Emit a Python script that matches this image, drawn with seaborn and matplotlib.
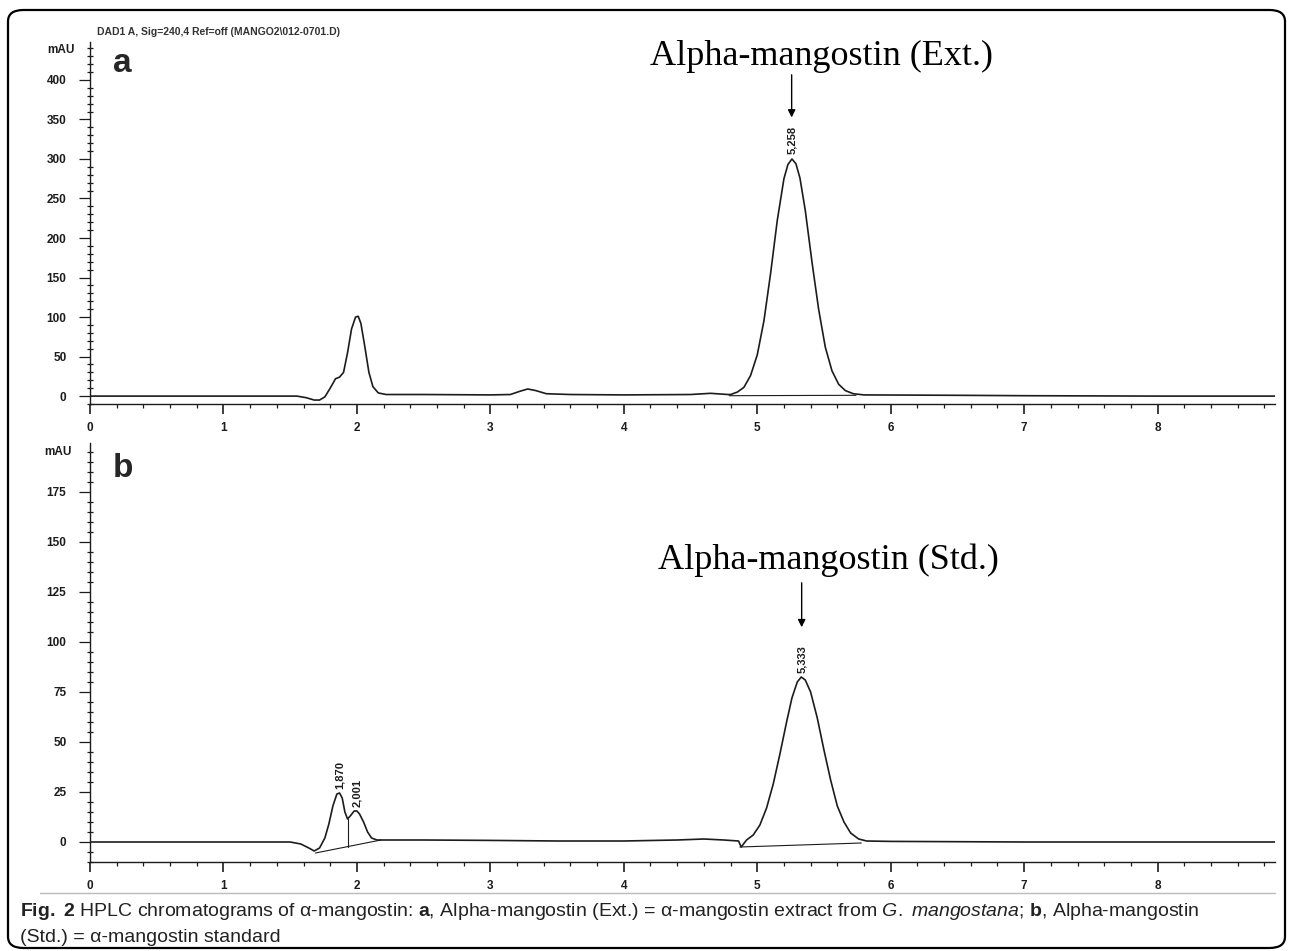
import numpy as np
import pandas as pd
import matplotlib
matplotlib.use("Agg")
import matplotlib.pyplot as plt
import seaborn as sns
from matplotlib.patches import FancyBboxPatch
from matplotlib.ticker import MultipleLocator

# trace a: extract (retention time in min, signal in mAU)
a_time = [0.0, 1.55, 1.62, 1.68, 1.72, 1.76, 1.80, 1.84, 1.87, 1.90, 1.93, 1.96, 1.99,
          2.01, 2.03, 2.06, 2.09, 2.12, 2.16, 2.22, 2.5, 3.0, 3.15, 3.22, 3.28, 3.34,
          3.42, 3.6, 4.0, 4.5, 4.65, 4.78, 4.80, 4.85, 4.90, 4.95, 5.00, 5.05, 5.10,
          5.15, 5.20, 5.23, 5.26, 5.29, 5.32, 5.36, 5.41, 5.46, 5.51, 5.56, 5.61,
          5.66, 5.72, 5.80, 6.5, 7.0, 8.0, 8.88]
a_signal = [0, 0, -2, -5, -5, -1, 10, 22, 24, 30, 55, 85, 100,
            101, 92, 62, 30, 12, 4, 2, 2, 1.5, 2, 6, 9, 7,
            3, 2, 1.5, 2, 3.5, 2, 2, 5, 11, 26, 52, 95, 155,
            222, 275, 293, 300, 294, 276, 235, 170, 110, 62, 32, 15,
            7, 3, 1.5, 1, 0.5, 0, 0]

# trace b: standard
b_time = [0.0, 1.50, 1.58, 1.64, 1.68, 1.72, 1.76, 1.79, 1.82, 1.85, 1.87, 1.89,
          1.91, 1.93, 1.95, 1.98, 2.00, 2.02, 2.05, 2.08, 2.11, 2.15, 2.20, 2.5,
          3.0, 3.5, 4.0, 4.4, 4.6, 4.75, 4.86, 4.88, 4.92, 4.97, 5.02, 5.07, 5.12,
          5.17, 5.22, 5.26, 5.30, 5.33, 5.36, 5.40, 5.45, 5.50, 5.55, 5.60, 5.65,
          5.70, 5.76, 5.82, 6.0, 7.0, 8.0, 8.88]
b_signal = [0, 0, -1, -3, -4.5, -3, 2, 9, 18, 24, 24.5, 22,
            15, 11.5, 13, 15.5, 15.5, 14, 10, 5, 2, 1, 1, 1,
            0.8, 0.5, 0.5, 1, 1.5, 1, 0.5, -2.5, 1, 3.5, 8.5, 17, 29,
            44, 60, 72, 80, 82.5, 81, 75, 62, 46, 31, 18, 10,
            4.5, 1.5, 0.5, 0.3, 0, 0, 0]

# integration baselines drawn by the software
a_base_time = [4.79, 5.74]
a_base_signal = [0.5, 1.0]
b_base1_time = [1.69, 2.18]
b_base1_signal = [-5.5, 1.0]
b_drop_time = [1.93, 1.93]
b_drop_signal = [-2.3, 11.5]
b_base2_time = [4.87, 5.78]
b_base2_signal = [-2.5, -0.5]

# peak labels
a_peak_rt = [5.258]
a_peak_top = [300]
a_peak_text = ["5,258"]
b_peak_rt = [1.870, 2.001, 5.333]
b_peak_top = [24.5, 15.5, 82.5]
b_peak_text = ["1,870", "2,001", "5,333"]

sns.set_style("ticks")
plt.rcParams['font.family'] = ['Liberation Sans', 'DejaVu Sans']
plt.rcParams['mathtext.fontset'] = 'custom'
plt.rcParams['mathtext.rm'] = 'Liberation Sans'
plt.rcParams['mathtext.bf'] = 'Liberation Sans:bold'
plt.rcParams['mathtext.it'] = 'Liberation Sans:italic'

W, H = 1290, 951
fig = plt.figure(figsize=(W / 100, H / 100), dpi=100)

ink = "#1c1c1c"
serif = ['Liberation Serif', 'DejaVu Serif']


def style_axis(ax, ymax, yminor, yticks):
    ax.set_xlim(0, 8.88)
    ax.set_ylim(-10, ymax)
    ax.xaxis.set_major_locator(MultipleLocator(1))
    ax.xaxis.set_minor_locator(MultipleLocator(0.2))
    ax.set_yticks(yticks)
    ax.yaxis.set_minor_locator(MultipleLocator(yminor))
    ax.tick_params(axis='x', which='major', direction='out', length=7, width=1.2,
                   pad=6, labelsize=8.5, colors=ink)
    ax.tick_params(axis='x', which='minor', direction='out', length=3, width=0.9, colors=ink)
    ax.tick_params(axis='y', which='major', direction='out', length=8, width=0.9,
                   pad=9, labelsize=8.5, colors=ink)
    ax.tick_params(axis='y', which='minor', direction='inout', length=5, width=0.9, colors=ink)
    for lab in ax.get_xticklabels() + ax.get_yticklabels():
        lab.set_fontweight('bold')
    sns.despine(ax=ax)
    for side in ['left', 'bottom']:
        ax.spines[side].set_color(ink)
        ax.spines[side].set_linewidth(1.0)
    ax.set_xlabel("")
    ax.set_ylabel("")
    ax.patch.set_alpha(0)


# ---- panel a ----
ax_a = fig.add_axes([90 / W, 1 - 404 / H, 1185 / W, 362 / H])
sns.lineplot(x=a_time, y=a_signal, ax=ax_a, color=ink, lw=1.2, sort=False, estimator=None)
sns.lineplot(x=a_base_time, y=a_base_signal, ax=ax_a, color=ink, lw=0.8, sort=False, estimator=None)
style_axis(ax_a, 448, 10, [0, 50, 100, 150, 200, 250, 300, 350, 400])

for rt, top, txt in zip(a_peak_rt, a_peak_top, a_peak_text):
    ax_a.text(rt, top + 6, txt, rotation=90, ha='center', va='bottom',
              fontsize=8, fontweight='bold', color=ink)
ax_a.annotate('', xy=(5.258, 349), xytext=(5.258, 410),
              arrowprops=dict(arrowstyle='-|>', color='black', lw=1.0, mutation_scale=11),
              annotation_clip=False)
ax_a.text(5.48, 430, 'Alpha-mangostin (Ext.)', family=serif, fontsize=26,
          ha='center', va='center', color='black', clip_on=False)
ax_a.text(0.019, 0.917, 'a', transform=ax_a.transAxes, fontsize=24,
          fontweight='bold', va='baseline', ha='left')
fig.text(47 / W, 1 - 50 / H, 'mAU', fontsize=8.5, fontweight='bold', color=ink,
         ha='left', va='center')
fig.text(97 / W, 1 - 32 / H, r'DAD1 A, Sig=240,4 Ref=off (MANGO2\012-0701.D)',
         fontsize=7.5, fontweight='bold', color='#333333', ha='left', va='center')

# ---- panel b ----
ax_b = fig.add_axes([90 / W, 1 - 862 / H, 1185 / W, 419 / H])
sns.lineplot(x=b_time, y=b_signal, ax=ax_b, color=ink, lw=1.2, sort=False, estimator=None)
for bx, by in [(b_base1_time, b_base1_signal), (b_drop_time, b_drop_signal),
               (b_base2_time, b_base2_signal)]:
    sns.lineplot(x=bx, y=by, ax=ax_b, color=ink, lw=0.8, sort=False, estimator=None)
style_axis(ax_b, 199.5, 5, [0, 25, 50, 75, 100, 125, 150, 175])

for rt, top, txt in zip(b_peak_rt, b_peak_top, b_peak_text):
    ax_b.text(rt, top + 2, txt, rotation=90, ha='center', va='bottom',
              fontsize=8, fontweight='bold', color=ink)
ax_b.annotate('', xy=(5.333, 106), xytext=(5.333, 131),
              arrowprops=dict(arrowstyle='-|>', color='black', lw=1.0, mutation_scale=11),
              annotation_clip=False)
ax_b.text(5.53, 141, 'Alpha-mangostin (Std.)', family=serif, fontsize=26,
          ha='center', va='center', color='black', clip_on=False)
ax_b.text(0.019, 0.919, 'b', transform=ax_b.transAxes, fontsize=24,
          fontweight='bold', va='baseline', ha='left')
fig.text(44 / W, 1 - 452 / H, 'mAU', fontsize=8.5, fontweight='bold', color=ink,
         ha='left', va='center')

# faint rule under the b time axis
fig.add_artist(plt.Line2D([40 / W, 1275 / W], [1 - 893 / H, 1 - 893 / H],
                          color='#bbbbbb', lw=1.0))

# ---- caption ----
cap_font = ['Liberation Sans', 'DejaVu Sans']
fig.text(20 / W, 1 - 911 / H,
         r'$\mathbf{Fig.}$ $\mathbf{2}$ HPLC chromatograms of α-mangostin: $\mathbf{a}$, '
         r'Alpha-mangostin (Ext.) = α-mangostin extract from $\mathit{G.}$ $\mathit{mangostana}$; '
         r'$\mathbf{b}$, Alpha-mangostin',
         family=cap_font, fontsize=14, color='#222222', ha='left', va='center')
fig.text(20 / W, 1 - 937 / H, '(Std.) = α-mangostin standard',
         family=cap_font, fontsize=14, color='#222222', ha='left', va='center')

# rounded frame around the whole figure
frame = FancyBboxPatch((8 / W, 3 / H), 1277 / W, 938 / H,
                       boxstyle="round,pad=0,rounding_size=0.012",
                       transform=fig.transFigure, fill=False, ec='black', lw=1.6)
fig.add_artist(frame)

fig.savefig("out.png", dpi=100)
